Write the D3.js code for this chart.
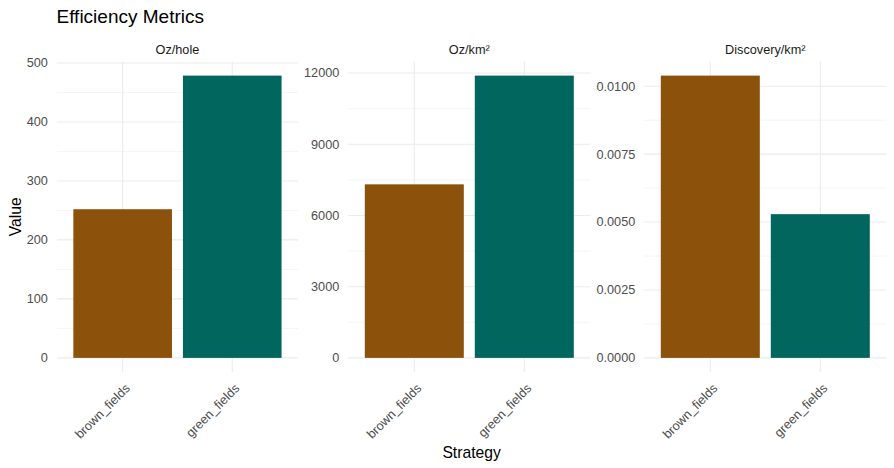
<!DOCTYPE html>
<html><head><meta charset="utf-8">
<script src="https://cdn.jsdelivr.net/npm/d3@7"></script>
<style>body{margin:0;background:#fff}svg{display:block;font-family:"Liberation Sans",Arial,sans-serif}</style>
</head><body><svg id="c" width="894" height="468"></svg>
<script>
const metrics = ["Oz/hole", "Oz/km²", "Discovery/km²"];
const strategies = ["brown_fields", "green_fields"];
const brownValues = [252, 7310, 0.01039];
const greenValues = [478.5, 11890, 0.00529];
const tickValues = [
  [0, 100, 200, 300, 400, 500],
  [0, 3000, 6000, 9000, 12000],
  [0, 0.0025, 0.005, 0.0075, 0.01]
];
const tickFormats = [d3.format("d"), d3.format("d"), d3.format(".4f")];
const colors = {brown_fields: "#8C510A", green_fields: "#01665E"};

const svg = d3.select("#c");
const panelX = [[56.9, 298], [348.3, 590.3], [644.3, 886.3]];
const pTop = 61.5, pBottom = 372;
const grid = "#EBEBEB";
const fTick = 12.7;

svg.append("text").attr("x", 56.5).attr("y", 23.3).attr("font-size", 19).attr("fill", "#000").text("Efficiency Metrics");

metrics.forEach((m, i) => {
  const vals = [brownValues[i], greenValues[i]];
  const mx = d3.max(vals);
  const y = d3.scaleLinear().domain([-0.05 * mx, mx * 1.05]).range([pBottom, pTop]);
  const [x0, x1] = panelX[i];
  const step = (x1 - x0) / 2.2;
  const xc = d => x0 + step * (0.6 + strategies.indexOf(d));
  const g = svg.append("g");
  const tv = tickValues[i];
  const dt = tv[1] - tv[0];
  const minors = [];
  for (let k = 0; k <= tv.length; k++) {
    const v = tv[0] - dt / 2 + k * dt;
    if (y(v) >= pTop && y(v) <= pBottom) minors.push(v);
  }
  g.selectAll(".mn").data(minors).join("line")
    .attr("x1", x0).attr("x2", x1).attr("y1", d => y(d)).attr("y2", d => y(d))
    .attr("stroke", grid).attr("stroke-width", 0.55);
  g.selectAll(".mj").data(tv).join("line")
    .attr("x1", x0).attr("x2", x1).attr("y1", d => y(d)).attr("y2", d => y(d))
    .attr("stroke", grid).attr("stroke-width", 1.07);
  g.selectAll(".vx").data(strategies).join("line")
    .attr("x1", d => xc(d)).attr("x2", d => xc(d)).attr("y1", pTop).attr("y2", pBottom)
    .attr("stroke", grid).attr("stroke-width", 1.07);
  g.selectAll(".bar").data(strategies).join("rect")
    .attr("x", d => xc(d) - step * 0.45).attr("width", step * 0.9)
    .attr("y", (d, j) => y(vals[j])).attr("height", (d, j) => y(0) - y(vals[j]))
    .attr("fill", d => colors[d]);
  g.selectAll(".yl").data(tv).join("text")
    .attr("x", x0 - 9).attr("y", d => y(d)).attr("dy", "0.35em")
    .attr("text-anchor", "end").attr("font-size", fTick).attr("fill", "#4D4D4D")
    .text(d => tickFormats[i](d));
  g.selectAll(".xl").data(strategies).join("text")
    .attr("transform", d => `translate(${xc(d) + 8},${pBottom + 17}) rotate(-45)`)
    .attr("text-anchor", "end")
    .attr("font-size", fTick).attr("fill", "#4D4D4D").text(d => d);
  g.append("text").attr("x", (x0 + x1) / 2).attr("y", 53.7).attr("text-anchor", "middle")
    .attr("font-size", fTick).attr("fill", "#1A1A1A").text(m);
});

svg.append("text").attr("transform", `translate(21,${(pTop + pBottom) / 2}) rotate(-90)`)
  .attr("text-anchor", "middle").attr("font-size", 15.7).attr("fill", "#000").text("Value");
svg.append("text").attr("x", (panelX[0][0] + panelX[2][1]) / 2).attr("y", 458)
  .attr("text-anchor", "middle").attr("font-size", 15.7).attr("fill", "#000").text("Strategy");
</script></body></html>
